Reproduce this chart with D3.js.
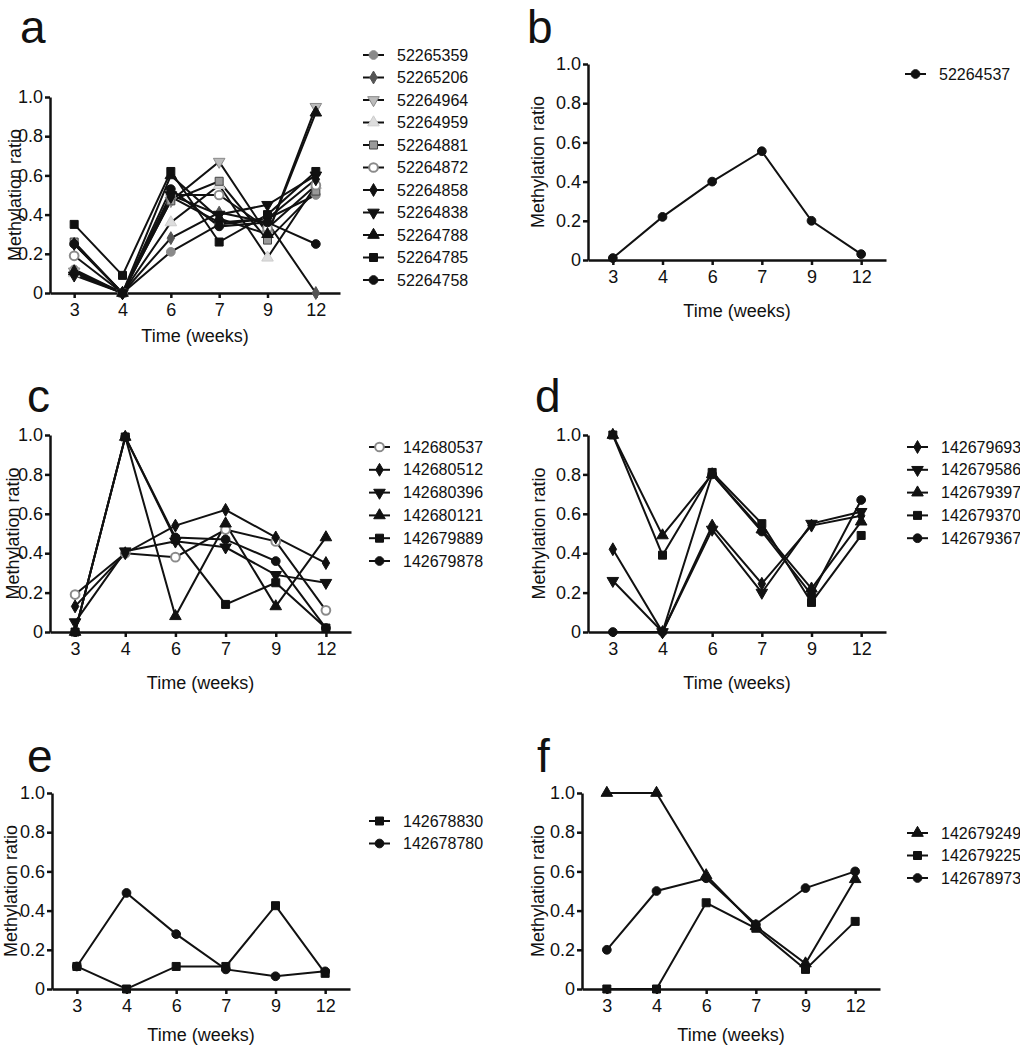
<!DOCTYPE html>
<html>
<head>
<meta charset="utf-8">
<script src="https://cdn.jsdelivr.net/npm/d3@7"></script>
<style>
  body { margin: 0; background: #fff; }
  text { font-family: "Liberation Sans", Arial, sans-serif; fill: #111; }
</style>
</head>
<body>
<svg id="chart" width="1020" height="1050"></svg>
<script>
// data
const weeks = ["3", "4", "6", "7", "9", "12"];
const yTicks = [0, 0.2, 0.4, 0.6, 0.8, 1.0];

const namesA = ["52265359", "52265206", "52264964", "52264959", "52264881", "52264872",
                "52264858", "52264838", "52264788", "52264785", "52264758"];
const valuesA = [
  [0.12, 0.00, 0.21, 0.35, 0.38, 0.50],
  [0.10, 0.00, 0.28, 0.41, 0.36, 0.00],
  [0.11, 0.00, 0.47, 0.67, 0.30, 0.95],
  [0.10, 0.00, 0.36, 0.55, 0.18, 0.55],
  [0.26, 0.00, 0.47, 0.57, 0.27, 0.52],
  [0.19, 0.00, 0.50, 0.50, 0.33, 0.55],
  [0.25, 0.00, 0.49, 0.36, 0.38, 0.58],
  [0.09, 0.00, 0.50, 0.40, 0.45, 0.60],
  [0.11, 0.00, 0.60, 0.38, 0.30, 0.92],
  [0.35, 0.09, 0.62, 0.26, 0.40, 0.62],
  [0.25, 0.00, 0.53, 0.34, 0.36, 0.25]
];

const namesB = ["52264537"];
const valuesB = [
  [0.01, 0.22, 0.40, 0.555, 0.20, 0.03]
];

const namesC = ["142680537", "142680512", "142680396", "142680121", "142679889", "142679878"];
const valuesC = [
  [0.19, 0.40, 0.38, 0.52, 0.46, 0.11],
  [0.13, 0.40, 0.54, 0.62, 0.48, 0.35],
  [0.05, 0.41, 0.46, 0.43, 0.29, 0.25],
  [0.00, 0.99, 0.08, 0.55, 0.13, 0.48],
  [0.00, 0.99, 0.47, 0.14, 0.25, 0.02],
  [0.00, 0.99, 0.48, 0.47, 0.36, 0.02]
];

const namesD = ["142679693", "142679586", "142679397", "142679370", "142679367"];
const valuesD = [
  [0.42, 0.00, 0.54, 0.245, 0.54, 0.59],
  [0.26, 0.00, 0.52, 0.20, 0.55, 0.61],
  [1.00, 0.49, 0.80, 0.52, 0.22, 0.56],
  [1.00, 0.39, 0.81, 0.55, 0.15, 0.49],
  [0.00, 0.00, 0.80, 0.51, 0.19, 0.67]
];

const namesE = ["142678830", "142678780"];
const valuesE = [
  [0.115, 0.00, 0.115, 0.115, 0.425, 0.08],
  [0.115, 0.49, 0.28, 0.10, 0.065, 0.09]
];

const namesF = ["142679249", "142679225", "142678973"];
const valuesF = [
  [1.00, 1.00, 0.58, 0.32, 0.13, 0.56],
  [0.00, 0.00, 0.44, 0.31, 0.10, 0.345],
  [0.20, 0.50, 0.565, 0.33, 0.515, 0.60]
];

// marker styles
const black = "#111";
const mk = {
  circleGray:  {shape: "circle",   fill: "#8a8a8a", stroke: "#8a8a8a"},
  diamondDark: {shape: "diamond",  fill: "#555",    stroke: "#555"},
  downGray:    {shape: "down",     fill: "#bbb",    stroke: "#8a8a8a"},
  triLight:    {shape: "triangle", fill: "#ddd",    stroke: "#ccc"},
  squareOpen:  {shape: "square",   fill: "#9a9a9a", stroke: "#444"},
  circleOpen:  {shape: "circle",   fill: "#fff",    stroke: "#8a8a8a"},
  diamond:     {shape: "diamond",  fill: black, stroke: black},
  down:        {shape: "down",     fill: black, stroke: black},
  triangle:    {shape: "triangle", fill: black, stroke: black},
  square:      {shape: "square",   fill: black, stroke: black},
  circle:      {shape: "circle",   fill: black, stroke: black}
};

const panels = [
  {letter: "a", lx: 20, ly: 43, names: namesA, values: valuesA,
   markers: ["circleGray", "diamondDark", "downGray", "triLight", "squareOpen", "circleOpen",
             "diamond", "down", "triangle", "square", "circle"],
   x0: 50, x1: 340, yTop: 97, yBot: 293, yTitleX: 15, xTitleY: 336,
   legX: 363, legTextX: 397, legY: 55, legStep: 22.5},
  {letter: "b", lx: 527, ly: 43, names: namesB, values: valuesB, markers: ["circle"],
   x0: 588, x1: 886, yTop: 64, yBot: 260, yTitleX: 538, xTitleY: 311,
   legX: 905, legTextX: 939, legY: 74, legStep: 22.5},
  {letter: "c", lx: 27, ly: 412, names: namesC, values: valuesC,
   markers: ["circleOpen", "diamond", "down", "triangle", "square", "circle"],
   x0: 50, x1: 351, yTop: 435, yBot: 632, yTitleX: 13, xTitleY: 683,
   legX: 369, legTextX: 403, legY: 447, legStep: 22.8},
  {letter: "d", lx: 535, ly: 412, names: namesD, values: valuesD,
   markers: ["diamond", "down", "triangle", "square", "circle"],
   x0: 588, x1: 886, yTop: 435, yBot: 632, yTitleX: 539, xTitleY: 683,
   legX: 907, legTextX: 941, legY: 447, legStep: 22.8},
  {letter: "e", lx: 27, ly: 772, names: namesE, values: valuesE, markers: ["square", "circle"],
   x0: 52, x1: 350, yTop: 793, yBot: 989, yTitleX: 11, xTitleY: 1035,
   legX: 369, legTextX: 403, legY: 821, legStep: 22.5},
  {letter: "f", lx: 537, ly: 772, names: namesF, values: valuesF,
   markers: ["triangle", "square", "circle"],
   x0: 582, x1: 880, yTop: 793, yBot: 989, yTitleX: 538, xTitleY: 1035,
   legX: 907, legTextX: 941, legY: 833, legStep: 22.5}
];

const svg = d3.select("#chart");

function symbolPath(shape) {
  const types = {circle: d3.symbolCircle, square: d3.symbolSquare, diamond: d3.symbolDiamond,
                 triangle: d3.symbolTriangle, down: d3.symbolTriangle};
  const sizes = {circle: 60, square: 64, diamond: 48, triangle: 58, down: 58};
  return d3.symbol().type(types[shape]).size(sizes[shape])();
}

function drawMarker(g, style, x, y) {
  const s = mk[style];
  g.append("path")
    .attr("d", symbolPath(s.shape))
    .attr("transform", "translate(" + x + "," + y + ")" + (s.shape === "down" ? " rotate(180)" : ""))
    .attr("fill", s.fill)
    .attr("stroke", s.stroke)
    .attr("stroke-width", s.fill === "#fff" ? 2 : 1);
}

panels.forEach(function(p) {
  const g = svg.append("g");
  const x = d3.scalePoint().domain(weeks).range([p.x0, p.x1]).padding(0.5);
  const y = d3.scaleLinear().domain([0, 1]).range([p.yBot, p.yTop]);

  // letter
  g.append("text")
    .attr("x", p.lx).attr("y", p.ly)
    .attr("font-size", 46)
    .text(p.letter);

  // axes
  const xAxis = g.append("g")
    .attr("transform", "translate(0," + p.yBot + ")")
    .call(d3.axisBottom(x).tickSize(5).tickSizeOuter(0).tickPadding(5));
  const yAxis = g.append("g")
    .attr("transform", "translate(" + p.x0 + ",0)")
    .call(d3.axisLeft(y).tickValues(yTicks).tickSize(5).tickSizeOuter(0).tickPadding(2)
      .tickFormat(function(d) { return d === 0 ? "0" : d.toFixed(1); }));
  [xAxis, yAxis].forEach(function(a) {
    a.select(".domain").attr("stroke", black).attr("stroke-width", 2.5);
    a.selectAll(".tick line").attr("stroke", black).attr("stroke-width", 2.5);
    a.selectAll(".tick text").attr("font-size", 18).attr("fill", "#111")
      .attr("font-family", "Liberation Sans, Arial, sans-serif");
  });

  // axis titles
  g.append("text")
    .attr("transform", "translate(" + p.yTitleX + "," + ((p.yTop + p.yBot) / 2) + ") rotate(-90)")
    .attr("text-anchor", "middle")
    .attr("dominant-baseline", "central")
    .attr("font-size", 18)
    .text("Methylation ratio");
  g.append("text")
    .attr("x", (p.x0 + p.x1) / 2).attr("y", p.xTitleY)
    .attr("text-anchor", "middle")
    .attr("dominant-baseline", "central")
    .attr("font-size", 18)
    .text("Time (weeks)");

  // lines
  const line = d3.line()
    .x(function(d, i) { return x(weeks[i]); })
    .y(function(d) { return y(d); });
  p.values.forEach(function(vals) {
    g.append("path")
      .attr("d", line(vals))
      .attr("fill", "none")
      .attr("stroke", black)
      .attr("stroke-width", 2);
  });
  // markers
  p.values.forEach(function(vals, si) {
    vals.forEach(function(v, i) {
      drawMarker(g, p.markers[si], x(weeks[i]), y(v));
    });
  });

  // legend
  p.names.forEach(function(name, i) {
    const ly = p.legY + i * p.legStep;
    g.append("line")
      .attr("x1", p.legX).attr("x2", p.legX + 21)
      .attr("y1", ly).attr("y2", ly)
      .attr("stroke", black).attr("stroke-width", 2);
    drawMarker(g, p.markers[i], p.legX + 10.5, ly);
    g.append("text")
      .attr("x", p.legTextX).attr("y", ly)
      .attr("dominant-baseline", "central")
      .attr("font-size", 16)
      .text(name);
  });
});
</script>
</body>
</html>
